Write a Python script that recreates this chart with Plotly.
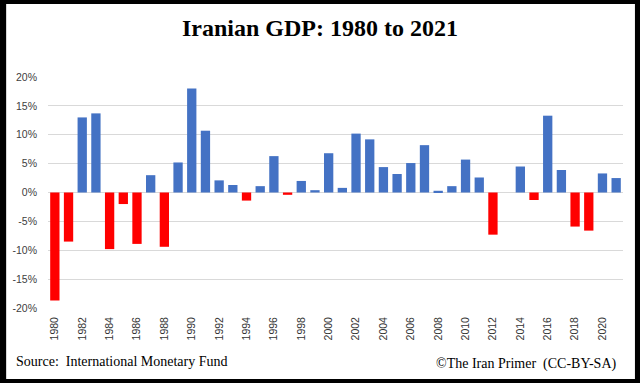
import plotly.graph_objects as go

years = list(range(1980, 2022))
gdp_growth = [-18.7, -8.5, 13.0, 13.7, -9.8, -2.0, -8.9, 3.0, -9.4, 5.2,
              18.0, 10.7, 2.1, 1.3, -1.4, 1.1, 6.3, -0.4, 2.0, 0.4,
              6.8, 0.8, 10.2, 9.2, 4.4, 3.2, 5.1, 8.2, 0.3, 1.1,
              5.7, 2.6, -7.3, 0.0, 4.5, -1.3, 13.3, 3.9, -5.9, -6.6,
              3.3, 2.5]
y_tick_vals = [-20, -15, -10, -5, 0, 5, 10, 15, 20]
y_tick_text = ["-20%", "-15%", "-10%", "-5%", "0%", "5%", "10%", "15%", "20%"]
x_tick_vals = list(range(1980, 2022, 2))
x_tick_text = [str(y) for y in x_tick_vals]

W, H = 640, 383
L, R, T, B = 46, 17, 77, 75
PW, PH = W - L - R, H - T - B

def px(x):
    return (x - L) / PW

def py(y):
    return (H - B - y) / PH

colors = ["#4472C4" if v >= 0 else "#FF0000" for v in gdp_growth]

fig = go.Figure(go.Bar(x=years, y=gdp_growth, marker_color=colors,
                       marker_line_width=0, width=0.68))

fig.update_layout(
    width=W, height=H,
    margin=dict(l=L, r=R, t=T, b=B),
    paper_bgcolor="white", plot_bgcolor="white",
    showlegend=False,
    title=dict(text="Iranian GDP: 1980 to 2021", x=0.5, xanchor="center",
               y=1 - 28 / H, yanchor="middle",
               font=dict(family="Liberation Serif", size=24, color="black", weight="bold")),
    xaxis=dict(range=[1979.5, 2021.5], tickvals=x_tick_vals, ticktext=x_tick_text,
               tickangle=-90, showgrid=False, zeroline=False, showline=False,
               ticks="", ticklabelstandoff=6,
               tickfont=dict(family="Liberation Sans", size=10.5, color="#333333")),
    yaxis=dict(range=[-20, 20], tickvals=y_tick_vals, ticktext=y_tick_text,
               showgrid=True, gridcolor="#D9D9D9", gridwidth=1,
               zeroline=True, zerolinecolor="#D9D9D9", zerolinewidth=1,
               showline=False, ticks="", ticklabelstandoff=10,
               tickfont=dict(family="Liberation Sans", size=10.5, color="#404040")),
    bargap=0.32,
)

fig.add_annotation(text="Source:  International Monetary Fund", xref="paper", yref="paper",
                   x=px(12), y=py(361), xanchor="left", yanchor="middle", showarrow=False,
                   font=dict(family="Liberation Serif", size=14, color="black"))
fig.add_annotation(text="©The Iran Primer  (CC-BY-SA)", xref="paper", yref="paper",
                   x=px(618), y=py(364), xanchor="right", yanchor="middle", showarrow=False,
                   font=dict(family="Liberation Serif", size=14, color="black"))

fig.add_shape(type="rect", xref="paper", yref="paper",
              x0=px(0), x1=px(W - 1), y0=py(H), y1=py(0),
              line=dict(color="black", width=8), fillcolor="rgba(0,0,0,0)")

fig.write_html("out.html", config={"displayModeBar": False},
               post_script="document.body.style.margin='0';document.body.style.overflow='hidden';")
